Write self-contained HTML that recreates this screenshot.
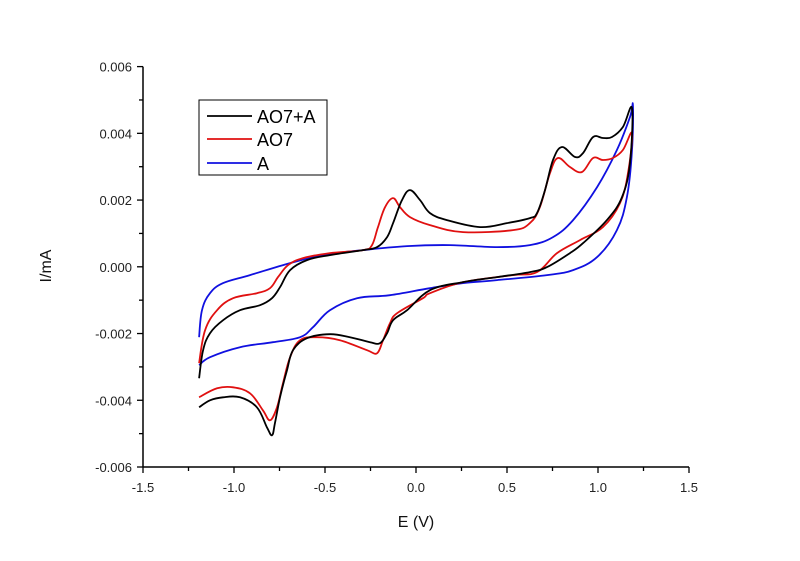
<!DOCTYPE html>
<html><head><meta charset="utf-8"><style>
body{margin:0;background:#fff;}
svg{display:block;font-family:"Liberation Sans",Arial,sans-serif;}
</style></head><body>
<svg id="chart" width="800" height="561"></svg>
<script>
const xTicks=[-1.5,-1.0,-0.5,0.0,0.5,1.0,1.5];
const xTickLabels=["-1.5","-1.0","-0.5","0.0","0.5","1.0","1.5"];
const yTicks=[0.006,0.004,0.002,0,-0.002,-0.004,-0.006];
const yTickLabels=["0.006","0.004","0.002","0.000","-0.002","-0.004","-0.006"];
const seriesNames=["AO7+A","AO7","A"];
const seriesColors=["#000000","#e01010","#1010e0"];
// potentials (V) and currents (x1e-3 mA units)
const blackE=[-1.192,-1.170,-1.132,-1.060,-0.967,-0.857,-0.791,-0.747,-0.692,-0.599,-0.473,-0.291,-0.214,-0.159,-0.126,-0.077,-0.033,0.022,0.077,0.170,0.352,0.500,0.626,0.665,0.709,0.753,0.802,0.874,0.918,0.973,1.027,1.077,1.137,1.187,1.176,1.132,1.049,0.918,0.846,0.720,0.626,0.445,0.258,0.077,-0.049,-0.126,-0.159,-0.198,-0.253,-0.363,-0.473,-0.599,-0.676,-0.709,-0.747,-0.775,-0.791,-0.819,-0.874,-0.967,-1.060,-1.132,-1.192];
const blackI=[-3.34,-2.50,-1.99,-1.60,-1.30,-1.15,-0.94,-0.61,-0.10,0.20,0.35,0.50,0.59,0.89,1.31,2.00,2.30,2.00,1.61,1.40,1.19,1.31,1.46,1.61,2.30,3.20,3.59,3.29,3.41,3.89,3.86,3.89,4.19,4.76,3.11,2.09,1.40,0.71,0.41,-0.01,-0.16,-0.31,-0.46,-0.70,-1.30,-1.60,-1.99,-2.29,-2.26,-2.11,-2.02,-2.14,-2.50,-3.10,-3.91,-4.69,-5.05,-4.81,-4.21,-3.91,-3.91,-4.00,-4.21];
const redE=[-1.192,-1.159,-1.093,-1.005,-0.874,-0.802,-0.758,-0.703,-0.621,-0.473,-0.291,-0.242,-0.209,-0.170,-0.126,-0.088,-0.033,0.077,0.258,0.533,0.626,0.681,0.736,0.780,0.846,0.912,0.973,1.027,1.082,1.137,1.187,1.165,1.121,1.027,0.901,0.775,0.665,0.533,0.258,0.077,0.038,-0.104,-0.143,-0.181,-0.214,-0.269,-0.418,-0.544,-0.637,-0.692,-0.731,-0.764,-0.802,-0.841,-0.912,-1.005,-1.093,-1.192];
const redI=[-2.89,-1.90,-1.30,-0.94,-0.79,-0.64,-0.31,0.05,0.26,0.41,0.50,0.65,1.19,1.79,2.06,1.79,1.49,1.25,1.04,1.10,1.31,1.79,2.81,3.26,2.99,2.84,3.26,3.20,3.26,3.50,4.01,2.81,1.91,1.19,0.80,0.41,-0.16,-0.25,-0.46,-0.79,-0.94,-1.39,-1.69,-2.20,-2.59,-2.50,-2.20,-2.11,-2.20,-2.71,-3.49,-4.21,-4.60,-4.30,-3.79,-3.61,-3.64,-3.91];
const blueE=[-1.192,-1.176,-1.132,-1.060,-0.912,-0.692,-0.511,-0.291,-0.049,0.187,0.445,0.626,0.753,0.863,0.995,1.104,1.176,1.192,1.187,1.159,1.104,0.995,0.863,0.720,0.445,0.258,0.077,-0.143,-0.324,-0.473,-0.566,-0.637,-0.786,-0.967,-1.132,-1.192];
const blueI=[-2.11,-1.30,-0.79,-0.49,-0.25,0.11,0.35,0.50,0.62,0.65,0.59,0.65,0.89,1.40,2.39,3.50,4.49,4.85,3.50,2.09,1.10,0.29,-0.10,-0.25,-0.40,-0.49,-0.64,-0.85,-0.94,-1.30,-1.81,-2.11,-2.26,-2.41,-2.71,-2.95];

const NS="http://www.w3.org/2000/svg";
const svg=document.getElementById('chart');
const X0=143,X1=689,Y0=467,Y1=66.6;
function xs(v){return X0+(v+1.5)/3*(X1-X0);}
function ys(v){return Y0-(v+0.006)/0.012*(Y0-Y1);}
function mk(t,a,p){const e=document.createElementNS(NS,t);for(const k in a)e.setAttribute(k,a[k]);(p||svg).appendChild(e);return e;}

const axes=mk('g',{});


mk('line',{x1:X0,y1:Y1,x2:X0,y2:Y0,stroke:'#000','stroke-width':1.5},axes);
mk('line',{x1:X0,y1:Y0,x2:X1,y2:Y0,stroke:'#000','stroke-width':1.5},axes);
xTicks.forEach((v,i)=>{
  const x=xs(v);
  mk('line',{x1:x,y1:Y0,x2:x,y2:Y0+6,stroke:'#000','stroke-width':1.3},axes);
  const t=mk('text',{x:x,y:Y0+25,'text-anchor':'middle','font-size':13,fill:'#222'},axes);
  t.textContent=xTickLabels[i];
  
  
  if(i<xTicks.length-1){const m=xs(v+0.25);mk('line',{x1:m,y1:Y0,x2:m,y2:Y0+4,stroke:'#000','stroke-width':1.3},axes);}
});
yTicks.forEach((v,i)=>{
  const y=ys(v);
  mk('line',{x1:X0-6,y1:y,x2:X0,y2:y,stroke:'#000','stroke-width':1.3},axes);
  const t=mk('text',{x:X0-11,y:y+5,'text-anchor':'end','font-size':13,fill:'#222'},axes);
  t.textContent=yTickLabels[i];
  
  
  if(i<yTicks.length-1){const m=ys(v-0.001);mk('line',{x1:X0-4,y1:m,x2:X0,y2:m,stroke:'#000','stroke-width':1.3},axes);}
});
const xt=mk('text',{x:416,y:527,'text-anchor':'middle','font-size':16,fill:'#111'});
xt.textContent='E (V)';


const yt=mk('text',{x:0,y:0,'text-anchor':'middle','font-size':16,fill:'#111',transform:'translate(51,266) rotate(-90)'});
yt.textContent='I/mA';



function drawSeries(E,I,color,name){
  const P=E.map((e,i)=>[xs(e),ys(I[i]/1000)]);
  let d='M'+P[0][0].toFixed(1)+','+P[0][1].toFixed(1);
  for(let i=0;i<P.length-1;i++){
    const p0=P[Math.max(i-1,0)],p1=P[i],p2=P[i+1],p3=P[Math.min(i+2,P.length-1)];
    const k=0.18;
    const c1=[p1[0]+(p2[0]-p0[0])*k,p1[1]+(p2[1]-p0[1])*k];
    const c2=[p2[0]-(p3[0]-p1[0])*k,p2[1]-(p3[1]-p1[1])*k];
    d+='C'+c1[0].toFixed(1)+','+c1[1].toFixed(1)+' '+c2[0].toFixed(1)+','+c2[1].toFixed(1)+' '+p2[0].toFixed(1)+','+p2[1].toFixed(1);
  }
  const p=mk('path',{d:d,fill:'none',stroke:color,'stroke-width':1.8,'stroke-linejoin':'round'});
  
  
}
drawSeries(blueE,blueI,seriesColors[2],'series-a');
drawSeries(redE,redI,seriesColors[1],'series-ao7');
drawSeries(blackE,blackI,seriesColors[0],'series-ao7-plus-a');

const lg=mk('g',{});


mk('rect',{x:199,y:100,width:128,height:75,fill:'#fff',stroke:'#000','stroke-width':1},lg);
const rowsY=[116,139,163];
seriesNames.forEach((n,i)=>{
  const g=mk('g',{},lg);
  
  
  mk('line',{x1:207,y1:rowsY[i],x2:252,y2:rowsY[i],stroke:seriesColors[i],'stroke-width':1.8},g);
  const t=mk('text',{x:257,y:rowsY[i]+7,'font-size':18,fill:'#000'},g);
  t.textContent=n;
});
</script>
</body></html>
